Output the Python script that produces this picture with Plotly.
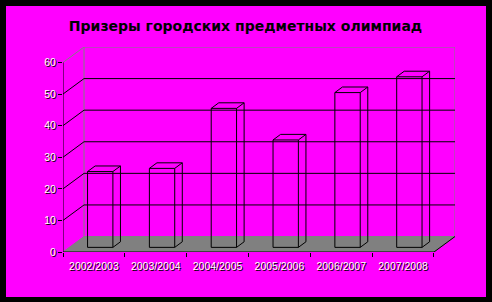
import plotly.graph_objects as go

# ---- data ----
categories = ["2002/2003", "2003/2004", "2004/2005", "2005/2006", "2006/2007", "2007/2008"]
values = [24, 25, 44, 34, 49, 54]
y_ticks = [0, 10, 20, 30, 40, 50, 60]
title_text = "Призеры городских предметных олимпиад"

# ---- geometry of the oblique 3D look (in axis units) ----
N = len(categories)
VMAX = 60
DX = 0.34      # depth shift along x (category units)
DY = 4.9       # depth shift along y (value units)
F0, F1 = 0.30, 0.66   # bar depth span (fraction of full depth)
BW = 0.41      # bar width (category units)

W, H = 492, 302
L, R, T, B = 63, 37, 47, 50
pw, ph = W - L - R, H - T - B

MAGENTA = "#FF00FF"
GRAY = "#808080"

def P(x, v, f):
    return x + f * DX, v + f * DY

fig = go.Figure()

def add_poly(pts, color, width=1):
    xs, ys = [], []
    for seg in pts:
        for p in seg:
            xs.append(p[0]); ys.append(p[1])
        xs.append(None); ys.append(None)
    fig.add_trace(go.Scatter(x=xs, y=ys, mode="lines",
                             line=dict(color=color, width=width),
                             hoverinfo="skip", showlegend=False))

# floor
floor = [P(0, 0, 0), P(N, 0, 0), P(N, 0, 1), P(0, 0, 1), P(0, 0, 0)]
fig.add_trace(go.Scatter(x=[p[0] for p in floor], y=[p[1] for p in floor],
                         mode="lines", fill="toself", fillcolor=GRAY,
                         line=dict(color=GRAY, width=1),
                         hoverinfo="skip", showlegend=False))

# back wall border (gray)
add_poly([[P(0, 0, 1), P(0, VMAX, 1), P(N, VMAX, 1), P(N, 0, 1)],
          [P(0, VMAX, 0), P(0, VMAX, 1)]], GRAY)

# gridlines on back wall and left wall (black)
grid = []
for v in y_ticks:
    if 0 < v < VMAX:
        grid.append([P(0, v, 0), P(0, v, 1), P(N, v, 1)])
add_poly(grid, "black")

# front axes and right floor edge
add_poly([[P(0, VMAX, 0), P(0, 0, 0), P(N, 0, 0), P(N, 0, 1)]], "black")

# bars (wireframe)
segs = []
for i, v in enumerate(values):
    x0 = i + 0.5 - BW / 2
    x1 = i + 0.5 + BW / 2
    segs.append([P(x0, 0, F0), P(x1, 0, F0), P(x1, v, F0), P(x0, v, F0), P(x0, 0, F0)])
    segs.append([P(x0, v, F0), P(x0, v, F1), P(x1, v, F1), P(x1, v, F0)])
    segs.append([P(x1, v, F1), P(x1, 0, F1), P(x1, 0, F0)])
add_poly(segs, "black")

tickfont = dict(family="Liberation Sans, Arial, sans-serif", size=10.5,
                color="white", shadow="1px 1px 0px #000")

fig.update_layout(
    width=W, height=H,
    margin=dict(l=L, r=R, t=T, b=B, pad=0),
    paper_bgcolor="black",
    plot_bgcolor="rgba(0,0,0,0)",
    title=dict(text=title_text, x=245.5 / W, xanchor="center",
               y=1 - 26.5 / H, yanchor="middle", xref="container", yref="container",
               font=dict(family="DejaVu Sans, sans-serif", size=14, color="black", weight="bold")),
    xaxis=dict(range=[0, N + DX], showgrid=False, zeroline=False, showline=False,
               tickmode="array", tickvals=[i + 0.5 for i in range(N)], ticktext=categories,
               ticks="outside", ticklen=4, tickcolor="rgba(0,0,0,0)",
               tickfont=tickfont,
               minor=dict(tickmode="array", tickvals=list(range(N + 1)), ticks="outside",
                          ticklen=4, tickcolor="black", tickwidth=1, showgrid=False),
               fixedrange=True),
    yaxis=dict(range=[0, VMAX + DY], showgrid=False, zeroline=False, showline=False,
               tickmode="array", tickvals=y_ticks, ticks="outside", ticklen=4,
               tickcolor="black", tickwidth=1, tickfont=tickfont, fixedrange=True),
    shapes=[dict(type="rect", xref="paper", yref="paper", layer="below",
                 x0=(6 - L) / pw, x1=(486 - L) / pw,
                 y0=((H - 297) - B) / ph, y1=((H - 6) - B) / ph,
                 fillcolor=MAGENTA, line=dict(width=0))],
)

fig.write_html("out.html")
